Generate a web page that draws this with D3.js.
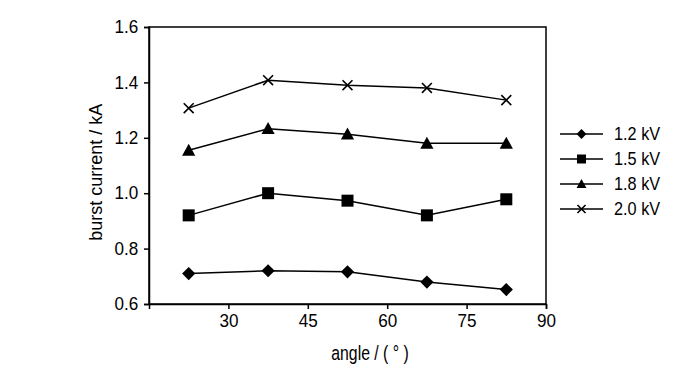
<!DOCTYPE html>
<html><head><meta charset="utf-8">
<script src="https://cdn.jsdelivr.net/npm/d3@7"></script>
<style>body{margin:0;background:#fff}svg text{font-family:"Liberation Sans",Arial,sans-serif;fill:#000}
.sq{transform-box:fill-box;transform-origin:center}</style>
</head><body>
<svg id="c" width="700" height="373"></svg>
<script>
const angles = [22.5, 37.5, 52.5, 67.5, 82.5];
const s12 = [0.710, 0.720, 0.716, 0.679, 0.652];
const s15 = [0.920, 1.000, 0.973, 0.920, 0.978];
const s18 = [1.155, 1.233, 1.213, 1.180, 1.180];
const s20 = [1.307, 1.408, 1.390, 1.380, 1.336];
const seriesNames = ["1.2 kV", "1.5 kV", "1.8 kV", "2.0 kV"];
const xTicks = [30, 45, 60, 75, 90];
const yTicks = [0.6, 0.8, 1.0, 1.2, 1.4, 1.6];

const series = [s12, s15, s18, s20];
const shapes = ["diamond", "square", "triangle", "cross"];
const svg = d3.select("#c");
const L = 149, R = 546, T = 27, B = 304;
const x = d3.scaleLinear().domain([15, 90]).range([L, R]);
const y = d3.scaleLinear().domain([0.6, 1.6]).range([B, T]);

svg.append("rect").attr("x", L).attr("y", T).attr("width", R - L).attr("height", B - T)
  .attr("fill", "none").attr("stroke", "#000").attr("stroke-width", 1.5);

const xa = svg.append("g").attr("transform", `translate(0,${B})`)
  .call(d3.axisBottom(x).tickValues(xTicks).tickSize(5).tickPadding(5).tickFormat(d3.format("d")));
const ya = svg.append("g").attr("transform", `translate(${L},0)`)
  .call(d3.axisLeft(y).tickValues(yTicks).tickSize(5).tickPadding(5).tickFormat(d3.format(".1f")));
[xa, ya].forEach(a => {
  a.select(".domain").attr("stroke-width", 1.5);
  a.selectAll(".tick line").attr("stroke-width", 1.5);
  a.selectAll("text").attr("class", "sq").style("font-size", "18px").style("transform", "scaleX(0.95)")
    .attr("font-family", "Liberation Sans, Arial, sans-serif");
});

function marker(g, shape, cx, cy, s) {
  if (shape === "diamond") {
    g.append("path").attr("d", `M${cx},${cy - s * 0.55}L${cx + s * 0.55},${cy}L${cx},${cy + s * 0.55}L${cx - s * 0.55},${cy}Z`).attr("fill", "#000");
  } else if (shape === "square") {
    g.append("rect").attr("x", cx - s / 2).attr("y", cy - s / 2).attr("width", s).attr("height", s).attr("fill", "#000");
  } else if (shape === "triangle") {
    g.append("path").attr("d", `M${cx},${cy - s * 0.55}L${cx + s * 0.55},${cy + s * 0.45}L${cx - s * 0.55},${cy + s * 0.45}Z`).attr("fill", "#000");
  } else {
    const h = s * 0.45;
    g.append("path").attr("d", `M${cx - h},${cy - h}L${cx + h},${cy + h}M${cx - h},${cy + h}L${cx + h},${cy - h}`)
      .attr("stroke", "#000").attr("stroke-width", 1.6).attr("fill", "none");
  }
}

const line = d3.line().x((d, i) => x(angles[i])).y(d => y(d));
series.forEach((s, k) => {
  const g = svg.append("g");
  g.append("path").datum(s).attr("d", line).attr("fill", "none").attr("stroke", "#000").attr("stroke-width", 1.5);
  s.forEach((v, i) => marker(g, shapes[k], x(angles[i]), y(v), shapes[k] === "cross" ? 11 : 12));
});

seriesNames.forEach((n, k) => {
  const ly = 134 + k * 25;
  const g = svg.append("g");
  g.append("line").attr("x1", 560).attr("x2", 603).attr("y1", ly).attr("y2", ly).attr("stroke", "#000").attr("stroke-width", 1.5);
  marker(g, shapes[k], 581.5, ly, 9);
  g.append("text").attr("x", 614).attr("y", ly).attr("dy", "0.35em")
    .style("font-size", "17.7px").style("transform-box", "fill-box").style("transform-origin", "left center")
    .style("transform", "scaleX(0.92)").text(n);
});

svg.append("text").attr("class", "sq").attr("transform", `translate(96,172) rotate(-90)`).attr("text-anchor", "middle")
  .attr("dy", "0.35em").style("font-size", "18px").text("burst current / kA");
svg.append("text").attr("class", "sq").attr("x", 370).attr("y", 353).attr("text-anchor", "middle").attr("dy", "0.35em")
  .style("font-size", "19.5px").style("transform", "scaleX(0.81)").text("angle / ( ° )");
</script>
</body></html>
